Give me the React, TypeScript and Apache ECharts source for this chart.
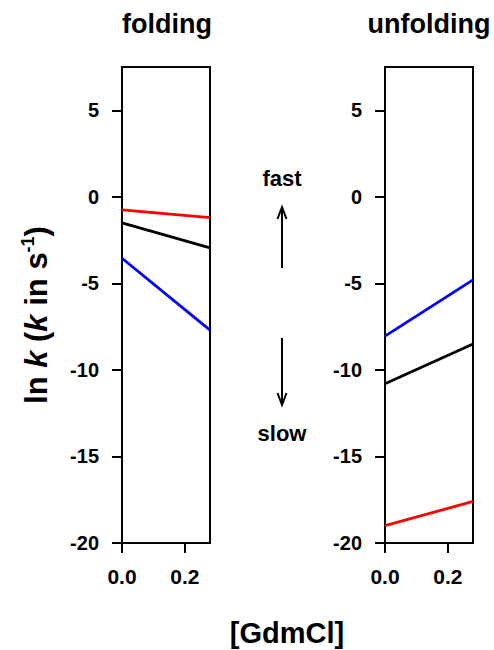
import React, { useEffect, useRef } from "react";
import * as echarts from "echarts";

// Denaturant concentration at the two ends of each fitted line
const gdmcl = [0, 0.28];

// ln k for the folding arm
const foldingRed = [-0.75, -1.2];
const foldingBlack = [-1.5, -2.95];
const foldingBlue = [-3.55, -7.7];

// ln k for the unfolding arm
const unfoldingBlue = [-8.05, -4.8];
const unfoldingBlack = [-10.8, -8.5];
const unfoldingRed = [-19.0, -17.6];

const yTicks = [-20, -15, -10, -5, 0, 5];
const xTicks = [0, 0.2];
const panelTitles = ["folding", "unfolding"];

const FONT = '"Liberation Sans", Arial, Helvetica, sans-serif';

const toPairs = (ys: number[]) => gdmcl.map((x, i) => [x, ys[i]]);

export default function App() {
  const ref = useRef<HTMLDivElement>(null);

  useEffect(() => {
    if (!ref.current) return;
    const chart = echarts.init(ref.current, null, { renderer: "svg" });

    const grids = [
      { left: 122, top: 67, width: 88, height: 476 },
      { left: 385, top: 67, width: 88, height: 476 },
    ].map((g) => ({
      ...g,
      show: true,
      borderColor: "#000",
      borderWidth: 2,
      backgroundColor: "transparent",
    }));

    const xAxes = [0, 1].map((i) => ({
      type: "value",
      gridIndex: i,
      min: 0,
      max: 0.28,
      axisLine: { show: true, onZero: false, lineStyle: { color: "#000", width: 2 } },
      axisTick: {
        show: true,
        length: 10,
        customValues: xTicks,
        lineStyle: { color: "#000", width: 2 },
      },
      axisLabel: {
        customValues: xTicks,
        margin: 23,
        formatter: (v: number) => v.toFixed(1),
        fontFamily: FONT,
        fontWeight: "bold",
        fontSize: 21,
        color: "#000",
      },
      splitLine: { show: false },
    }));

    const yAxes = [0, 1].map((i) => ({
      type: "value",
      gridIndex: i,
      min: -20,
      max: 7.5,
      axisLine: { show: true, onZero: false, lineStyle: { color: "#000", width: 2 } },
      axisTick: {
        show: true,
        length: 10,
        customValues: yTicks,
        lineStyle: { color: "#000", width: 2 },
      },
      axisLabel: {
        customValues: yTicks,
        margin: 23,
        fontFamily: FONT,
        fontWeight: "bold",
        fontSize: 20,
        color: "#000",
      },
      splitLine: { show: false },
    }));

    const line = (name: string, idx: number, ys: number[], color: string) => ({
      name,
      type: "line",
      xAxisIndex: idx,
      yAxisIndex: idx,
      data: toPairs(ys),
      symbol: "none",
      lineStyle: { color, width: 2.8 },
      silent: true,
    });

    const arrowHead = (x: number, y: number, dir: number) => ({
      type: "polyline",
      shape: {
        points: [
          [x - 4.5, y + dir * 12],
          [x, y],
          [x + 4.5, y + dir * 12],
        ],
      },
      style: { stroke: "#000", lineWidth: 2, fill: "none" },
    });

    const label = (text: string, x: number, y: number, size: number) => ({
      type: "text",
      x,
      y,
      style: {
        text,
        font: `bold ${size}px ${FONT}`,
        fill: "#000",
        align: "center",
        verticalAlign: "middle",
      },
    });

    chart.setOption({
      animation: false,
      grid: grids,
      xAxis: xAxes,
      yAxis: yAxes,
      series: [
        line("folding red", 0, foldingRed, "#ff0000"),
        line("folding black", 0, foldingBlack, "#000000"),
        line("folding blue", 0, foldingBlue, "#0000ff"),
        line("unfolding blue", 1, unfoldingBlue, "#0000ff"),
        line("unfolding black", 1, unfoldingBlack, "#000000"),
        line("unfolding red", 1, unfoldingRed, "#ff0000"),
      ],
      graphic: [
        label(panelTitles[0], 167, 24, 27),
        label(panelTitles[1], 429, 24, 27),
        label("[GdmCl]", 287, 633, 29),
        {
          type: "text",
          x: 36,
          y: 315,
          rotation: Math.PI / 2,
          style: {
            text: "{a|ln }{i|k}{a| (}{i|k}{a| in s}{s|-1}{a|)}",
            align: "center",
            verticalAlign: "middle",
            fill: "#000",
            rich: {
              a: { font: `bold 31px ${FONT}`, fill: "#000" },
              i: { font: `italic bold 31px ${FONT}`, fill: "#000" },
              s: {
                font: `bold 18px ${FONT}`,
                fill: "#000",
                padding: [0, 0, 16, 0],
              },
            },
          },
        },
        label("fast", 282, 178, 22),
        label("slow", 282, 433, 22),
        {
          type: "line",
          shape: { x1: 282, y1: 268, x2: 282, y2: 207 },
          style: { stroke: "#000", lineWidth: 2 },
        },
        arrowHead(282, 207, 1),
        {
          type: "line",
          shape: { x1: 282, y1: 338, x2: 282, y2: 405 },
          style: { stroke: "#000", lineWidth: 2 },
        },
        arrowHead(282, 405, -1),
      ],
    });

    return () => chart.dispose();
  }, []);

  return (
    <div
      ref={ref}
      style={{ position: "absolute", left: 0, top: 0, width: 494, height: 650 }}
    />
  );
}
